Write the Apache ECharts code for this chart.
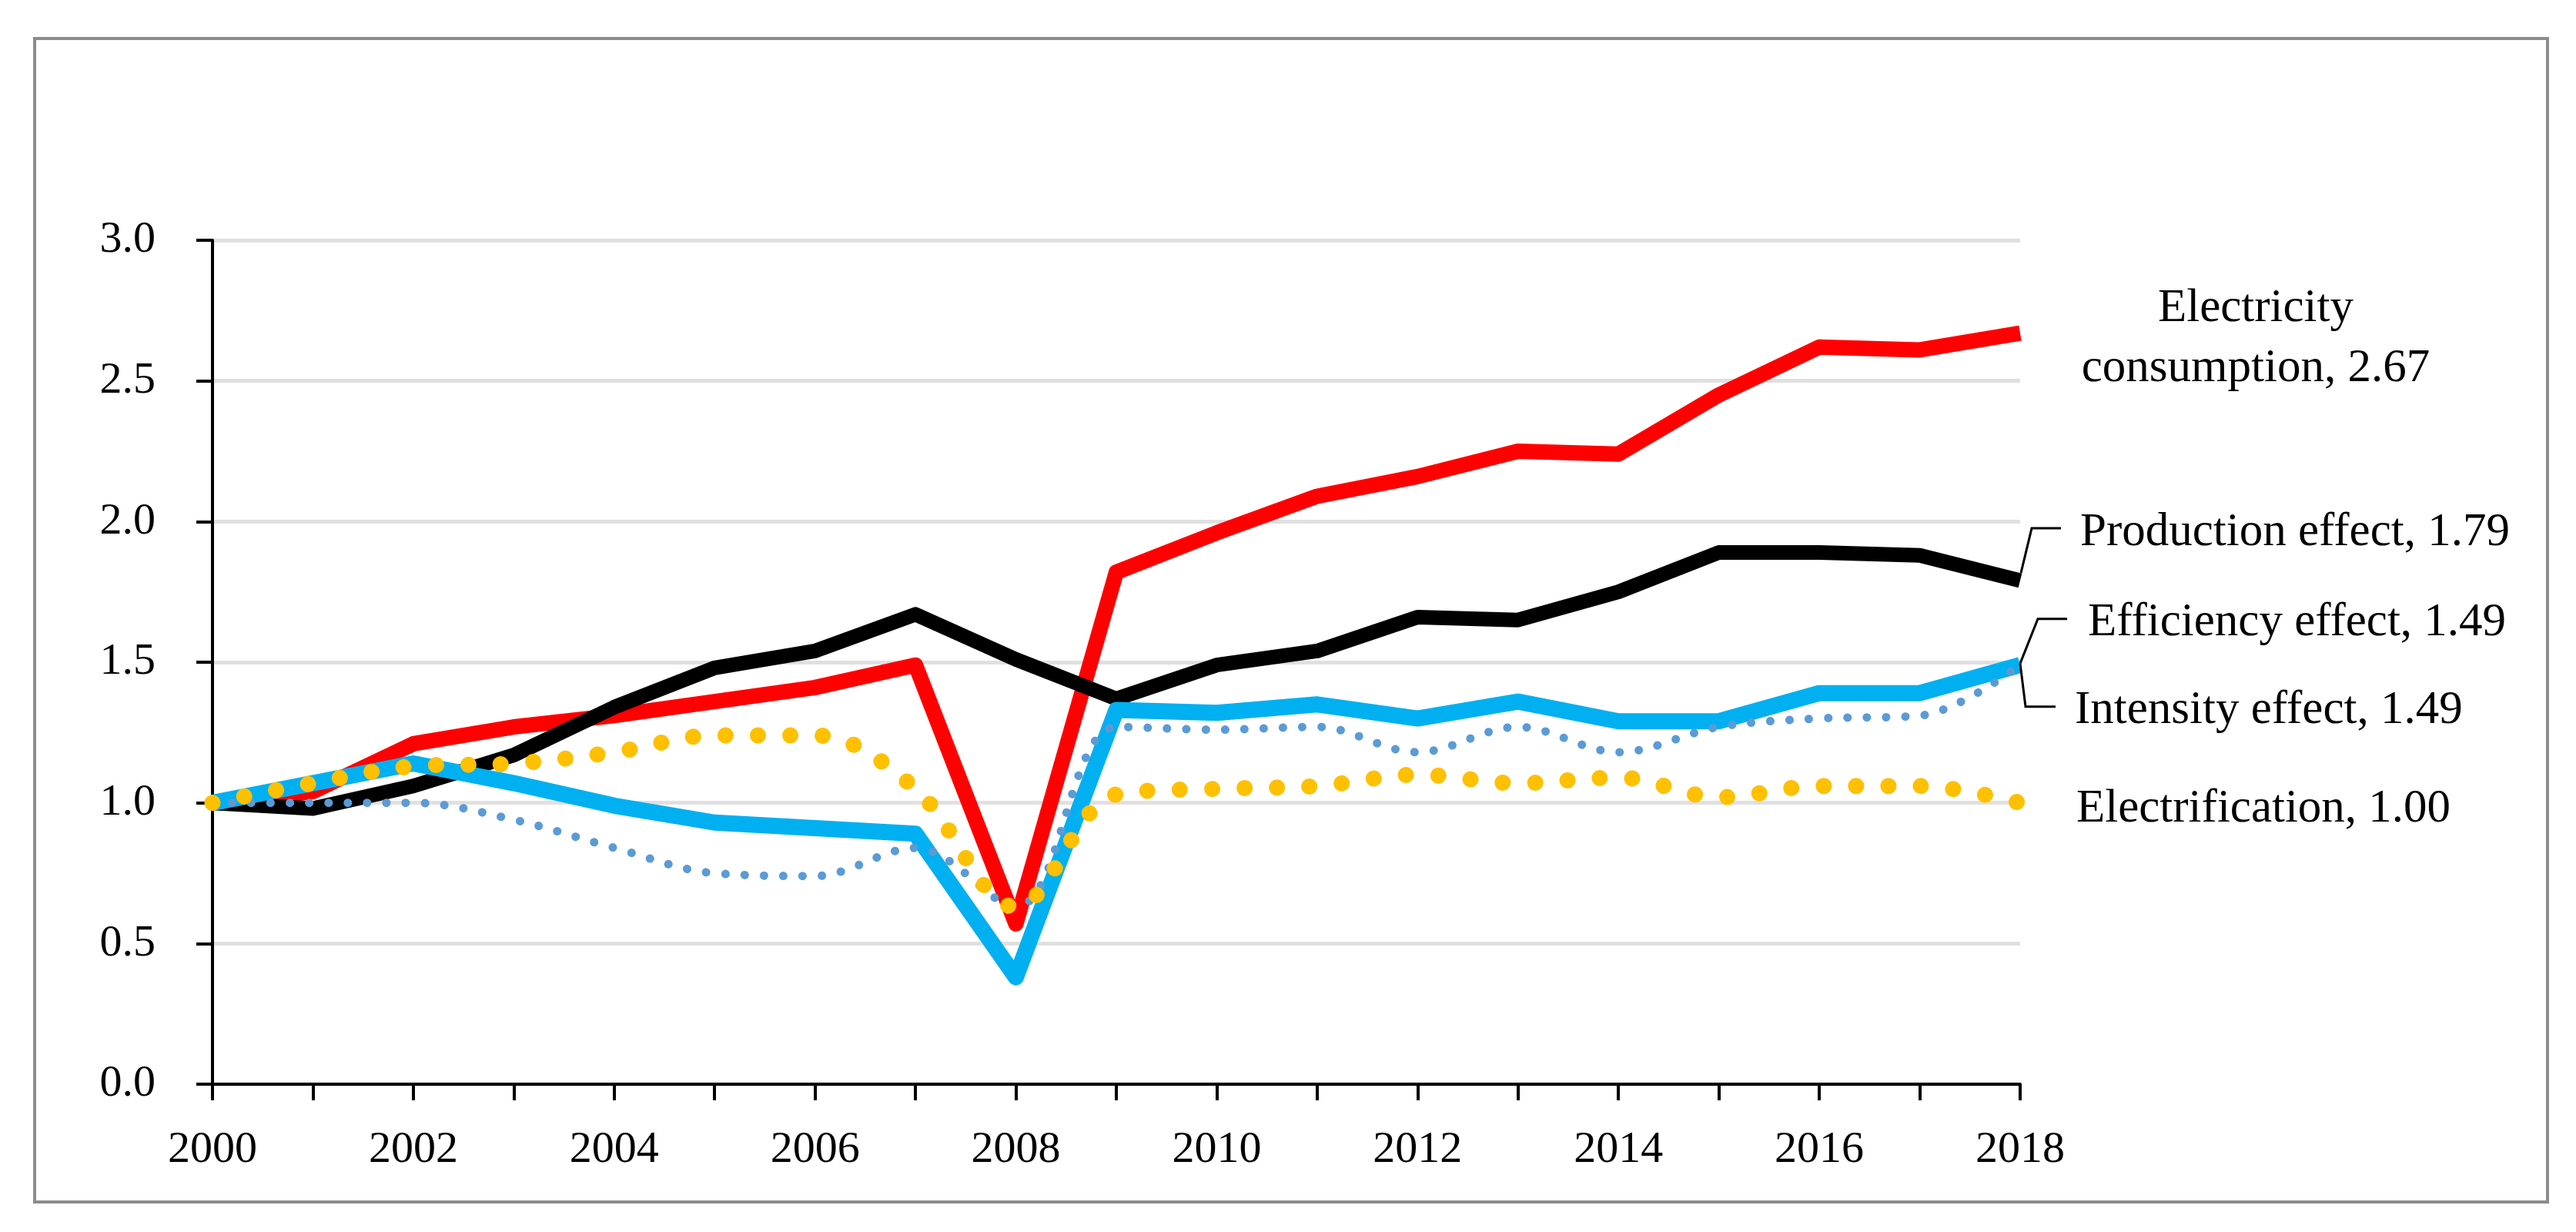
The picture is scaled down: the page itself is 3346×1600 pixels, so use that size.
<!DOCTYPE html>
<html>
<head>
<meta charset="utf-8">
<script src="https://cdn.jsdelivr.net/npm/echarts@6/dist/echarts.min.js"></script>
<style>
html,body{margin:0;padding:0;background:#ffffff;}
#chart{width:3346px;height:1600px;}
</style>
</head>
<body>
<div id="chart"></div>
<script>
// ---- data ----
const years = ['2000','2001','2002','2003','2004','2005','2006','2007','2008','2009','2010','2011','2012','2013','2014','2015','2016','2017','2018'];
const yTicks = [0, 0.5, 1.0, 1.5, 2.0, 2.5, 3.0];
const seriesNames = ['Electricity consumption', 'Production effect', 'Efficiency effect', 'Intensity effect', 'Electrification'];
const consumption     = [1.00, 1.04, 1.21, 1.27, 1.31, 1.36, 1.41, 1.49, 0.57, 1.82, 1.96, 2.09, 2.16, 2.25, 2.24, 2.45, 2.62, 2.61, 2.67];
const production      = [1.00, 0.98, 1.06, 1.17, 1.34, 1.48, 1.54, 1.67, 1.51, 1.37, 1.49, 1.54, 1.66, 1.65, 1.75, 1.89, 1.89, 1.88, 1.79];
const efficiency      = [1.00, 1.07, 1.14, 1.07, 0.99, 0.93, 0.91, 0.89, 0.38, 1.33, 1.32, 1.35, 1.30, 1.36, 1.29, 1.29, 1.39, 1.39, 1.49];
const intensity       = [1.00, 1.00, 1.00, 0.94, 0.84, 0.75, 0.74, 0.84, 0.63, 1.27, 1.26, 1.27, 1.18, 1.27, 1.18, 1.27, 1.30, 1.31, 1.49];
const electrification = [1.00, 1.07, 1.13, 1.14, 1.18, 1.24, 1.24, 1.05, 0.63, 1.03, 1.05, 1.06, 1.10, 1.07, 1.09, 1.02, 1.06, 1.06, 1.00];

const FONT = "'Liberation Serif', 'Times New Roman', serif";
const chart = echarts.init(document.getElementById('chart'), null, {renderer: 'canvas'});

function endLabel(name, offset, align, extra) {
  return Object.assign({
    show: true,
    formatter: (p) => name + ', ' + Number(p.value).toFixed(2),
    distance: 0,
    offset: offset,
    align: align,
    verticalAlign: 'middle',
    color: '#000',
    fontFamily: FONT,
    fontSize: 61
  }, extra || {});
}

const option = {
  animation: false,
  backgroundColor: '#ffffff',
  textStyle: {fontFamily: FONT},
  grid: {left: 276, right: 722, top: 312, bottom: 192, containLabel: false},
  xAxis: {
    type: 'category',
    data: years,
    boundaryGap: false,
    axisLine: {show: true, lineStyle: {color: '#000', width: 4}},
    axisTick: {show: true, interval: 0, inside: false, length: 21, lineStyle: {color: '#000', width: 4}},
    axisLabel: {interval: 1, color: '#000', fontFamily: FONT, fontSize: 58, margin: 57, hideOverlap: false},
    splitLine: {show: false}
  },
  yAxis: {
    type: 'value',
    min: yTicks[0],
    max: yTicks[yTicks.length - 1],
    interval: yTicks[1] - yTicks[0],
    axisLine: {show: true, lineStyle: {color: '#000', width: 4}},
    axisTick: {show: true, inside: false, length: 21, lineStyle: {color: '#000', width: 4}},
    axisLabel: {color: '#000', fontFamily: FONT, fontSize: 58, margin: 74, formatter: (v) => v.toFixed(1)},
    splitLine: {show: true, lineStyle: {color: '#e0e0e0', width: 5}}
  },
  series: [
    {
      name: seriesNames[0], type: 'line', data: consumption, showSymbol: false, z: 2,
      lineStyle: {color: '#ff0000', width: 20, join: 'round', cap: 'butt'},
      itemStyle: {color: '#ff0000'},
      endLabel: endLabel('Electricity\nconsumption', [306, 7], 'center', {lineHeight: 78})
    },
    {
      name: seriesNames[1], type: 'line', data: production, showSymbol: false, z: 3,
      lineStyle: {color: '#000000', width: 19, join: 'round', cap: 'butt'},
      itemStyle: {color: '#000000'},
      endLabel: endLabel(seriesNames[1], [78, -62], 'left')
    },
    {
      name: seriesNames[2], type: 'line', data: efficiency, showSymbol: false, z: 4,
      lineStyle: {color: '#00b0f0', width: 21, join: 'round', cap: 'butt'},
      itemStyle: {color: '#00b0f0'},
      endLabel: endLabel(seriesNames[2], [88, -55], 'left')
    },
    {
      name: seriesNames[3], type: 'line', data: intensity, showSymbol: false, smooth: 0.35, z: 5,
      lineStyle: {color: '#5b9bd5', width: 11, type: [0.1, 25], cap: 'round', join: 'round'},
      itemStyle: {color: '#5b9bd5'},
      endLabel: endLabel(seriesNames[3], [71, 59], 'left')
    },
    {
      name: seriesNames[4], type: 'line', data: electrification, showSymbol: false, smooth: 0.35, z: 6,
      lineStyle: {color: '#ffc000', width: 21, type: [0.1, 42], cap: 'round', join: 'round'},
      itemStyle: {color: '#ffc000'},
      endLabel: endLabel(seriesNames[4], [73, 8], 'left')
    }
  ]
};
chart.setOption(option);

// leader lines anchored at the pixel position of each series' last point
const last = years.length - 1;
function endPx(arr) {
  return chart.convertToPixel({xAxisIndex: 0, yAxisIndex: 0}, [last, arr[last]]);
}
function leader(arr, rel) {
  const p = endPx(arr);
  return {
    type: 'polyline', z: 100, silent: true,
    shape: {points: rel.map(r => [p[0] + r[0], p[1] + r[1]])},
    style: {stroke: '#000', lineWidth: 3, fill: null, lineJoin: 'miter'}
  };
}
chart.setOption({
  graphic: [
    {type: 'rect', z: 0, silent: true,
     shape: {x: 45, y: 50, width: 3264, height: 1511},
     style: {stroke: '#8c8c8c', lineWidth: 4, fill: null}},
    leader(production, [[1, -10], [15, -68], [53, -68]]),
    leader(efficiency, [[0, -2], [23, -60], [61, -60]]),
    leader(intensity, [[0, -2], [7, 54], [46, 54]])
  ]
});
</script>
</body>
</html>
